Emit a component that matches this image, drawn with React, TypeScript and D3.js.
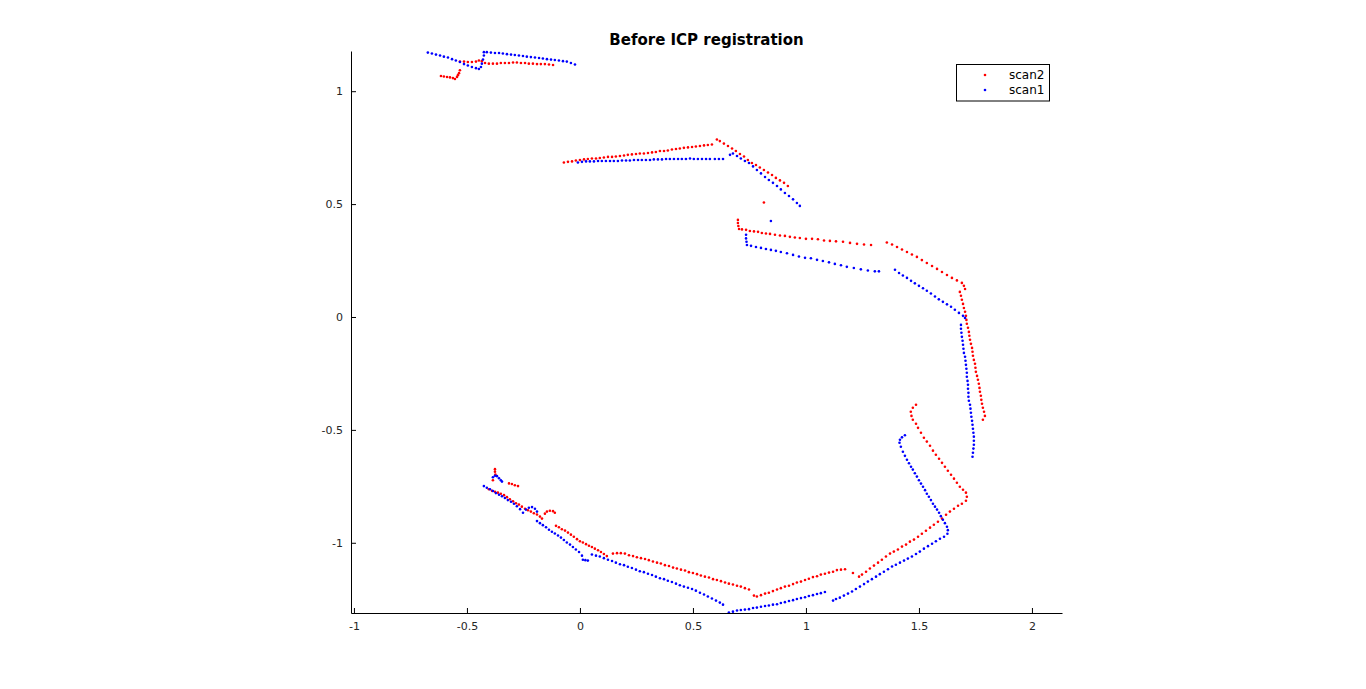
import { useEffect, useRef } from 'react';
import * as d3 from 'd3';

type Pt = [number, number];

// scan2 (red) pieces in data units
const scan2Stub: Pt[] = [[-0.615,1.067],[-0.602,1.065],[-0.588,1.063],[-0.575,1.061],[-0.562,1.058],[-0.553,1.054],[-0.544,1.063],[-0.540,1.071],[-0.535,1.080],[-0.531,1.093]];
const scan2Top: Pt[] = [[-0.531,1.131],[-0.513,1.131],[-0.496,1.129],[-0.478,1.129],[-0.460,1.131],[-0.447,1.136],[-0.434,1.133],[-0.420,1.125],[-0.403,1.122],[-0.385,1.122],[-0.367,1.122],[-0.350,1.125],[-0.332,1.125],[-0.314,1.125],[-0.296,1.127],[-0.279,1.127],[-0.261,1.125],[-0.243,1.125],[-0.226,1.122],[-0.208,1.122],[-0.190,1.120],[-0.173,1.120],[-0.155,1.120],[-0.137,1.118],[-0.119,1.116]];
const scan2Upper: Pt[] = [[-0.071,0.684],[-0.053,0.687],[-0.035,0.689],[-0.018,0.693],[0,0.695],[0.018,0.698],[0.035,0.700],[0.053,0.702],[0.071,0.702],[0.088,0.704],[0.106,0.706],[0.124,0.709],[0.142,0.709],[0.159,0.711],[0.177,0.713],[0.195,0.715],[0.212,0.718],[0.230,0.720],[0.248,0.722],[0.265,0.724],[0.283,0.724],[0.301,0.726],[0.319,0.729],[0.336,0.731],[0.354,0.735],[0.372,0.735],[0.389,0.737],[0.407,0.742],[0.425,0.744],[0.442,0.746],[0.460,0.749],[0.478,0.751],[0.496,0.753],[0.513,0.755],[0.531,0.757],[0.549,0.760],[0.566,0.762],[0.584,0.764]];
const scan2Corner: Pt[] = [[0.606,0.786],[0.619,0.779],[0.637,0.768],[0.655,0.757],[0.673,0.746],[0.690,0.735],[0.708,0.722],[0.726,0.711],[0.743,0.695],[0.761,0.682],[0.779,0.673],[0.796,0.662],[0.814,0.651],[0.832,0.640],[0.850,0.629],[0.867,0.616],[0.885,0.605],[0.903,0.594],[0.920,0.580]];
const scan2Stray: Pt[] = [[0.814,0.507]];
const scan2Mid: Pt[] = [[0.699,0.430],[0.699,0.416],[0.701,0.403],[0.704,0.390],[0.717,0.388],[0.735,0.386],[0.752,0.381],[0.770,0.379],[0.788,0.377],[0.805,0.372],[0.823,0.370],[0.841,0.368],[0.863,0.364],[0.885,0.361],[0.907,0.359],[0.929,0.355],[0.951,0.352],[0.973,0.350],[1.000,0.346],[1.027,0.346],[1.053,0.344],[1.080,0.339],[1.106,0.337],[1.133,0.335],[1.164,0.333],[1.195,0.328],[1.226,0.324],[1.257,0.321],[1.288,0.319]];
const scan2Right: Pt[] = [[1.358,0.330],[1.381,0.321],[1.403,0.310],[1.425,0.299],[1.447,0.288],[1.469,0.277],[1.491,0.266],[1.513,0.252],[1.535,0.239],[1.558,0.226],[1.580,0.213],[1.602,0.199],[1.624,0.186],[1.646,0.173],[1.668,0.162],[1.690,0.151],[1.699,0.138],[1.704,0.124]];
const scan2Far: Pt[] = [[1.681,0.111],[1.686,0.094],[1.690,0.076],[1.695,0.058],[1.699,0.040],[1.704,0.023],[1.708,0.005],[1.710,-0.013],[1.712,-0.030],[1.717,-0.048],[1.721,-0.066],[1.723,-0.083],[1.726,-0.101],[1.730,-0.119],[1.735,-0.137],[1.737,-0.154],[1.739,-0.172],[1.743,-0.190],[1.748,-0.207],[1.750,-0.225],[1.752,-0.243],[1.757,-0.261],[1.761,-0.278],[1.765,-0.296],[1.768,-0.314],[1.770,-0.331],[1.774,-0.349],[1.776,-0.367],[1.779,-0.384],[1.783,-0.402],[1.788,-0.420],[1.792,-0.438],[1.783,-0.455]];
const scan2Hook: Pt[] = [[1.487,-0.389],[1.473,-0.402],[1.464,-0.420],[1.467,-0.438],[1.473,-0.455],[1.487,-0.473],[1.496,-0.491],[1.509,-0.513],[1.522,-0.535],[1.535,-0.552],[1.549,-0.570],[1.562,-0.592],[1.575,-0.610],[1.589,-0.628],[1.602,-0.646],[1.615,-0.663],[1.628,-0.681],[1.642,-0.699],[1.655,-0.716],[1.668,-0.734],[1.681,-0.752],[1.695,-0.765],[1.708,-0.778],[1.712,-0.796],[1.708,-0.814],[1.690,-0.827],[1.673,-0.836],[1.655,-0.849],[1.637,-0.862],[1.620,-0.876],[1.602,-0.893],[1.584,-0.907],[1.566,-0.920],[1.549,-0.933],[1.531,-0.947],[1.513,-0.960],[1.496,-0.973],[1.478,-0.986],[1.460,-0.995],[1.443,-1.008],[1.425,-1.017],[1.407,-1.030],[1.389,-1.039],[1.372,-1.048],[1.354,-1.061],[1.336,-1.075],[1.319,-1.088],[1.301,-1.101],[1.283,-1.114],[1.266,-1.128],[1.248,-1.141],[1.235,-1.150]];
const scan2Dot: Pt[] = [[1.208,-1.134]];
const scan2Bottom: Pt[] = [[1.173,-1.117],[1.155,-1.119],[1.137,-1.121],[1.120,-1.128],[1.102,-1.132],[1.084,-1.137],[1.066,-1.141],[1.049,-1.148],[1.031,-1.152],[1.013,-1.159],[0.996,-1.165],[0.978,-1.172],[0.960,-1.176],[0.943,-1.183],[0.925,-1.190],[0.907,-1.194],[0.889,-1.201],[0.872,-1.207],[0.854,-1.214],[0.836,-1.221],[0.819,-1.225],[0.801,-1.232],[0.783,-1.238],[0.770,-1.234]];
const scan2Low: Pt[] = [[0.748,-1.207],[0.730,-1.201],[0.712,-1.194],[0.695,-1.190],[0.677,-1.185],[0.659,-1.181],[0.642,-1.176],[0.624,-1.170],[0.606,-1.165],[0.589,-1.161],[0.571,-1.154],[0.553,-1.150],[0.535,-1.145],[0.518,-1.139],[0.500,-1.134],[0.482,-1.130],[0.465,-1.123],[0.447,-1.119],[0.429,-1.114],[0.412,-1.110],[0.394,-1.103],[0.376,-1.099],[0.358,-1.092],[0.341,-1.088],[0.323,-1.083],[0.305,-1.077],[0.288,-1.072],[0.270,-1.068],[0.252,-1.064],[0.235,-1.059],[0.217,-1.055],[0.199,-1.048],[0.181,-1.046],[0.164,-1.046],[0.146,-1.048]];
const scan2Left: Pt[] = [[-0.403,-0.763],[-0.389,-0.770],[-0.376,-0.774],[-0.363,-0.778],[-0.350,-0.783],[-0.336,-0.789],[-0.323,-0.798],[-0.310,-0.807],[-0.296,-0.816],[-0.283,-0.825],[-0.270,-0.831],[-0.257,-0.840],[-0.243,-0.849],[-0.230,-0.856],[-0.217,-0.862],[-0.204,-0.869],[-0.190,-0.875],[-0.177,-0.884],[-0.168,-0.893],[-0.155,-0.871],[-0.146,-0.862],[-0.133,-0.858],[-0.119,-0.860],[-0.111,-0.867],[-0.106,-0.925],[-0.093,-0.931],[-0.080,-0.940],[-0.066,-0.946],[-0.053,-0.955],[-0.040,-0.964],[-0.027,-0.973],[-0.013,-0.984],[0,-0.993],[0.013,-0.999],[0.027,-1.006],[0.040,-1.013],[0.053,-1.019],[0.066,-1.026],[0.080,-1.033],[0.093,-1.041],[0.106,-1.050],[0.119,-1.059]];
const scan2Spike: Pt[] = [[-0.376,-0.674],[-0.376,-0.685],[-0.374,-0.698],[-0.385,-0.723],[-0.314,-0.737],[-0.301,-0.740],[-0.288,-0.745],[-0.274,-0.749]];

// scan1 (blue) pieces
const scan1Top: Pt[] = [[-0.673,1.171],[-0.655,1.167],[-0.637,1.162],[-0.619,1.158],[-0.602,1.153],[-0.584,1.149],[-0.566,1.142],[-0.549,1.136],[-0.531,1.129],[-0.513,1.120],[-0.496,1.114],[-0.478,1.107],[-0.460,1.102],[-0.447,1.098],[-0.438,1.107],[-0.434,1.122],[-0.429,1.140],[-0.425,1.158],[-0.425,1.173],[-0.412,1.173],[-0.394,1.171],[-0.376,1.169],[-0.358,1.169],[-0.341,1.167],[-0.323,1.164],[-0.305,1.162],[-0.288,1.160],[-0.270,1.158],[-0.252,1.156],[-0.235,1.153],[-0.217,1.151],[-0.199,1.149],[-0.181,1.147],[-0.164,1.145],[-0.146,1.142],[-0.128,1.140],[-0.111,1.138],[-0.093,1.136],[-0.075,1.133],[-0.058,1.131],[-0.040,1.125],[-0.022,1.118]];
const scan1Upper: Pt[] = [[-0.009,0.684],[0.009,0.687],[0.027,0.689],[0.044,0.689],[0.062,0.689],[0.080,0.691],[0.097,0.691],[0.115,0.691],[0.133,0.691],[0.150,0.691],[0.168,0.691],[0.186,0.693],[0.204,0.693],[0.221,0.693],[0.239,0.695],[0.257,0.695],[0.274,0.695],[0.292,0.695],[0.310,0.695],[0.327,0.698],[0.345,0.698],[0.363,0.698],[0.381,0.700],[0.398,0.700],[0.416,0.700],[0.434,0.700],[0.451,0.700],[0.469,0.700],[0.487,0.702],[0.504,0.700],[0.522,0.700],[0.540,0.700],[0.558,0.700],[0.575,0.700],[0.597,0.700],[0.615,0.700],[0.633,0.700],[0.664,0.718]];
const scan1Corner: Pt[] = [[0.677,0.724],[0.695,0.713],[0.712,0.702],[0.730,0.691],[0.748,0.682],[0.766,0.667],[0.783,0.651],[0.801,0.636],[0.819,0.620],[0.836,0.607],[0.854,0.594],[0.872,0.580],[0.889,0.565],[0.907,0.549],[0.925,0.536],[0.943,0.521],[0.960,0.505],[0.973,0.492]];
const scan1Stray: Pt[] = [[0.845,0.425]];
const scan1Mid: Pt[] = [[0.735,0.364],[0.735,0.348],[0.737,0.333],[0.739,0.319],[0.757,0.315],[0.779,0.310],[0.801,0.306],[0.823,0.301],[0.845,0.297],[0.867,0.293],[0.889,0.288],[0.916,0.282],[0.943,0.275],[0.969,0.268],[0.996,0.262],[1.022,0.260],[1.049,0.253],[1.075,0.248],[1.102,0.242],[1.128,0.235],[1.155,0.229],[1.181,0.222],[1.212,0.217],[1.243,0.211],[1.274,0.206],[1.305,0.202],[1.323,0.202]];
const scan1Right: Pt[] = [[1.394,0.209],[1.412,0.195],[1.429,0.184],[1.447,0.173],[1.465,0.160],[1.482,0.149],[1.500,0.138],[1.518,0.127],[1.535,0.116],[1.553,0.104],[1.571,0.091],[1.588,0.078],[1.606,0.067],[1.624,0.056],[1.642,0.045],[1.659,0.032],[1.677,0.018],[1.695,0.005],[1.704,-0.004]];
const scan1Far: Pt[] = [[1.686,-0.035],[1.686,-0.052],[1.688,-0.070],[1.690,-0.088],[1.693,-0.105],[1.695,-0.123],[1.697,-0.141],[1.699,-0.159],[1.704,-0.176],[1.706,-0.194],[1.708,-0.212],[1.710,-0.229],[1.712,-0.247],[1.712,-0.265],[1.715,-0.283],[1.717,-0.300],[1.717,-0.318],[1.719,-0.336],[1.719,-0.353],[1.721,-0.371],[1.726,-0.389],[1.728,-0.406],[1.730,-0.424],[1.732,-0.442],[1.735,-0.460],[1.737,-0.477],[1.739,-0.495],[1.741,-0.513],[1.743,-0.530],[1.743,-0.548],[1.743,-0.566],[1.741,-0.583],[1.739,-0.601],[1.737,-0.619]];
const scan1Hook: Pt[] = [[1.438,-0.524],[1.425,-0.533],[1.416,-0.544],[1.414,-0.557],[1.420,-0.575],[1.429,-0.597],[1.438,-0.615],[1.447,-0.632],[1.456,-0.648],[1.465,-0.663],[1.473,-0.676],[1.482,-0.692],[1.491,-0.707],[1.500,-0.723],[1.509,-0.738],[1.518,-0.752],[1.527,-0.767],[1.535,-0.783],[1.544,-0.796],[1.553,-0.811],[1.562,-0.827],[1.571,-0.840],[1.580,-0.853],[1.589,-0.867],[1.597,-0.882],[1.606,-0.898],[1.615,-0.913],[1.624,-0.929],[1.628,-0.944],[1.626,-0.960],[1.611,-0.973],[1.593,-0.982],[1.575,-0.993],[1.558,-1.004],[1.540,-1.015],[1.522,-1.026],[1.504,-1.039],[1.487,-1.050],[1.469,-1.061],[1.451,-1.070],[1.434,-1.079],[1.416,-1.088],[1.398,-1.097],[1.381,-1.105],[1.363,-1.117],[1.345,-1.128],[1.327,-1.139],[1.310,-1.150],[1.292,-1.161],[1.274,-1.172],[1.257,-1.183],[1.239,-1.194],[1.221,-1.205],[1.204,-1.216],[1.186,-1.225],[1.168,-1.234],[1.150,-1.243],[1.133,-1.249],[1.120,-1.256]];
const scan1Bottom: Pt[] = [[1.084,-1.218],[1.066,-1.223],[1.049,-1.227],[1.031,-1.232],[1.013,-1.236],[0.996,-1.241],[0.978,-1.245],[0.960,-1.249],[0.943,-1.254],[0.925,-1.258],[0.907,-1.263],[0.889,-1.267],[0.872,-1.272],[0.854,-1.274],[0.836,-1.278],[0.819,-1.280],[0.801,-1.283],[0.783,-1.287],[0.766,-1.289],[0.748,-1.294],[0.730,-1.296],[0.712,-1.298],[0.695,-1.300],[0.677,-1.305],[0.659,-1.309]];
const scan1Low: Pt[] = [[0.053,-1.052],[0.071,-1.057],[0.088,-1.061],[0.106,-1.068],[0.124,-1.075],[0.142,-1.081],[0.159,-1.088],[0.177,-1.095],[0.195,-1.099],[0.212,-1.106],[0.230,-1.112],[0.248,-1.119],[0.265,-1.126],[0.283,-1.130],[0.301,-1.137],[0.319,-1.143],[0.336,-1.150],[0.354,-1.157],[0.372,-1.161],[0.389,-1.168],[0.407,-1.174],[0.425,-1.181],[0.442,-1.188],[0.460,-1.194],[0.478,-1.199],[0.496,-1.205],[0.513,-1.212],[0.531,-1.221],[0.549,-1.229],[0.566,-1.238],[0.584,-1.247],[0.602,-1.256],[0.619,-1.265],[0.633,-1.274]];
const scan1Nub: Pt[] = [[0.013,-1.075],[0.024,-1.077],[0.035,-1.079]];
const scan1Left: Pt[] = [[-0.425,-0.749],[-0.412,-0.756],[-0.398,-0.763],[-0.385,-0.771],[-0.372,-0.780],[-0.358,-0.787],[-0.345,-0.794],[-0.332,-0.802],[-0.319,-0.811],[-0.305,-0.818],[-0.292,-0.827],[-0.279,-0.838],[-0.265,-0.851],[-0.252,-0.867],[-0.239,-0.853],[-0.226,-0.845],[-0.212,-0.842],[-0.199,-0.849],[-0.190,-0.862],[-0.190,-0.904],[-0.177,-0.913],[-0.164,-0.922],[-0.150,-0.931],[-0.137,-0.942],[-0.124,-0.951],[-0.111,-0.959],[-0.097,-0.968],[-0.084,-0.977],[-0.071,-0.988],[-0.058,-0.999],[-0.044,-1.008],[-0.031,-1.019],[-0.018,-1.030],[-0.004,-1.041],[0.009,-1.057]];
const scan1Cap: Pt[] = [[-0.385,-0.710],[-0.376,-0.703],[-0.367,-0.705],[-0.358,-0.714],[-0.350,-0.723],[-0.345,-0.729]];

const scan2: Pt[] = [...scan2Stub, ...scan2Top, ...scan2Upper, ...scan2Corner, ...scan2Stray, ...scan2Mid, ...scan2Right, ...scan2Far, ...scan2Hook, ...scan2Dot, ...scan2Bottom, ...scan2Low, ...scan2Left, ...scan2Spike];
const scan1: Pt[] = [...scan1Top, ...scan1Upper, ...scan1Corner, ...scan1Stray, ...scan1Mid, ...scan1Right, ...scan1Far, ...scan1Hook, ...scan1Bottom, ...scan1Low, ...scan1Nub, ...scan1Left, ...scan1Cap];

const xTicks = [-1, -0.5, 0, 0.5, 1, 1.5, 2];
const yTicks = [-1, -0.5, 0, 0.5, 1];
const seriesNames = ['scan2', 'scan1'];
const seriesColors = ['#ff0000', '#0000ff'];

const W = 1366;
const H = 689;

export default function App() {
  const svgRef = useRef<SVGSVGElement>(null);

  useEffect(() => {
    if (!svgRef.current) return;
    const svg = d3.select(svgRef.current);
    svg.selectAll('*').remove();

    const font = '"DejaVu Sans", sans-serif';
    const x = d3.scaleLinear().domain([-1.013, 2.133]).range([351, 1062]);
    const y = d3.scaleLinear().domain([-1.311, 1.178]).range([613, 51]);

    // points: scan2 first, scan1 over it
    [scan2, scan1].forEach((pts, i) => {
      svg.append('g')
        .selectAll('circle')
        .data(pts)
        .join('circle')
        .attr('cx', d => x(d[0]))
        .attr('cy', d => y(d[1]))
        .attr('r', 1.3)
        .attr('fill', seriesColors[i]);
    });

    // axes (ticks point inward like MATLAB)
    const xAxis = svg.append('g')
      .attr('transform', `translate(0,${y.range()[0]})`)
      .call(d3.axisBottom(x).tickValues(xTicks).tickSizeInner(-5).tickSizeOuter(0).tickPadding(9).tickFormat(d => String(d)));
    const yAxis = svg.append('g')
      .attr('transform', `translate(${x.range()[0]},0)`)
      .call(d3.axisLeft(y).tickValues(yTicks).tickSizeInner(-5).tickSizeOuter(0).tickPadding(8).tickFormat(d => String(d)));
    [xAxis, yAxis].forEach(a => {
      a.select('.domain').attr('stroke', '#000');
      a.selectAll('line').attr('stroke', '#000');
      a.selectAll('text')
        .attr('font-family', font)
        .attr('font-size', '11px')
        .attr('fill', '#262626');
    });

    // title
    svg.append('text')
      .attr('x', (x.range()[0] + x.range()[1]) / 2)
      .attr('y', 45)
      .attr('text-anchor', 'middle')
      .attr('font-family', font)
      .attr('font-size', '15px')
      .attr('font-weight', 'bold')
      .attr('fill', '#000')
      .text('Before ICP registration');

    // legend
    const lg = svg.append('g').attr('transform', 'translate(956.5,64.5)');
    lg.append('rect')
      .attr('width', 93)
      .attr('height', 36.5)
      .attr('fill', '#fff')
      .attr('stroke', '#000')
      .attr('stroke-width', 1);
    seriesNames.forEach((name, i) => {
      lg.append('circle')
        .attr('cx', 28.5)
        .attr('cy', 10.5 + i * 15)
        .attr('r', 1.3)
        .attr('fill', seriesColors[i]);
      lg.append('text')
        .attr('x', 52.5)
        .attr('y', 14.5 + i * 15)
        .attr('font-family', font)
        .attr('font-size', '12px')
        .attr('fill', '#000')
        .text(name);
    });
  }, []);

  return (
    <svg
      ref={svgRef}
      width={W}
      height={H}
      style={{ position: 'absolute', left: 0, top: 0, background: '#fff' }}
    />
  );
}
